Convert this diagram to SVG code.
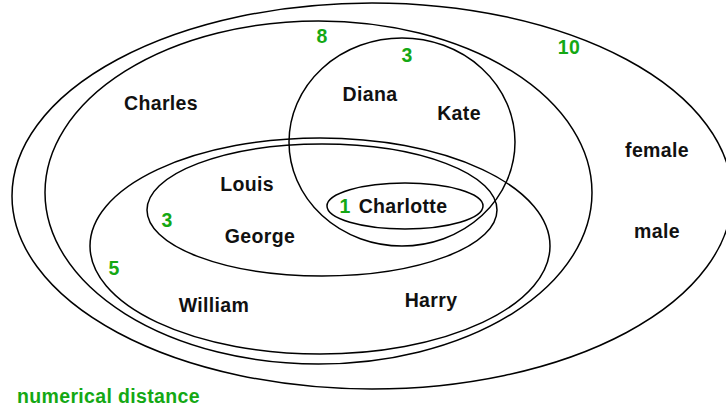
<svg xmlns="http://www.w3.org/2000/svg" width="726" height="412" viewBox="0 0 726 412">
<style>
.set{fill:none;stroke:#000;stroke-width:1.5}
.n{font-family:"Liberation Sans",Arial,sans-serif;font-weight:bold;font-size:19.5px;letter-spacing:0.35px;fill:#111;text-anchor:middle}
.d{font-family:"Liberation Sans",Arial,sans-serif;font-weight:bold;font-size:19.5px;letter-spacing:0.35px;fill:#14a814;text-anchor:middle}
</style>
<rect width="726" height="412" fill="#fff"/>
<g id="sets">
<g id="set10"><ellipse class="set" cx="372" cy="196" rx="360" ry="193"/></g>
<g id="set8"><ellipse class="set" cx="318.5" cy="192.5" rx="273.5" ry="171.5"/></g>
<g id="setFemale3"><ellipse class="set" cx="402" cy="142" rx="113" ry="104"/></g>
<g id="set5"><ellipse class="set" cx="320" cy="246" rx="230" ry="108"/></g>
<g id="setMale3"><ellipse class="set" cx="322" cy="210" rx="175" ry="66"/></g>
<g id="set1"><ellipse class="set" cx="405" cy="206" rx="78" ry="23"/></g>
</g>
<g id="names">
<g id="Charles"><text class="n" x="161" y="110">Charles</text></g>
<g id="Diana"><text class="n" x="370" y="101">Diana</text></g>
<g id="Kate"><text class="n" x="459" y="120">Kate</text></g>
<g id="Louis"><text class="n" x="247" y="191">Louis</text></g>
<g id="George"><text class="n" x="260" y="243">George</text></g>
<g id="Charlotte"><text class="n" x="403" y="213">Charlotte</text></g>
<g id="William"><text class="n" x="214" y="312">William</text></g>
<g id="Harry"><text class="n" x="431" y="307">Harry</text></g>
<g id="female"><text class="n" x="657" y="157">female</text></g>
<g id="male"><text class="n" x="657" y="238">male</text></g>
</g>
<g id="distances">
<text class="d" x="322" y="43">8</text>
<text class="d" x="407" y="62">3</text>
<text class="d" x="569" y="54">10</text>
<text class="d" x="167" y="227">3</text>
<text class="d" x="114" y="275">5</text>
<text class="d" x="345" y="213">1</text>
<text class="d" x="17" y="403" style="text-anchor:start">numerical distance</text>
</g>
</svg>
